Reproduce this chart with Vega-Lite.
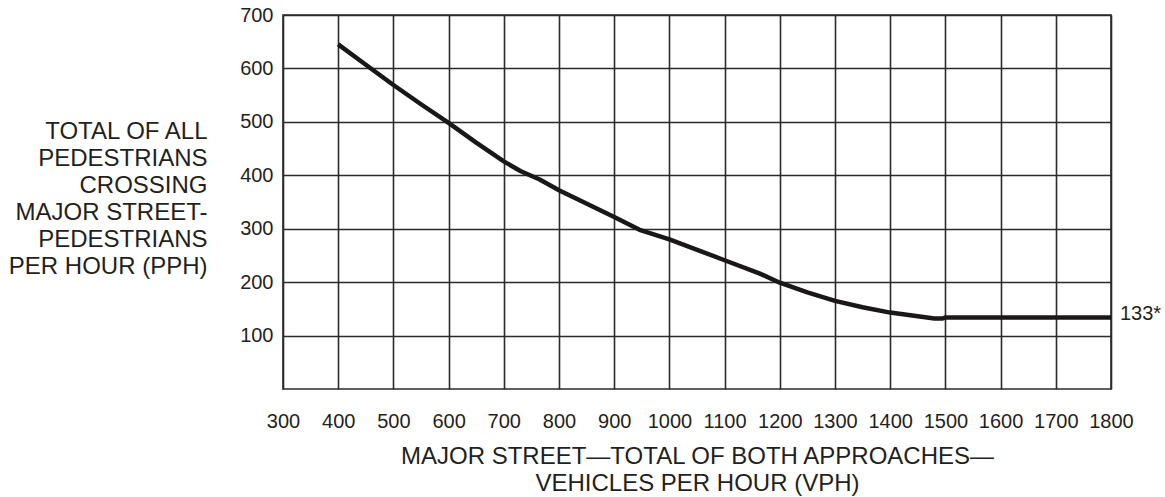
{
  "$schema": "https://vega.github.io/schema/vega-lite/v6.json",
  "autosize": {"type": "none"},
  "width": 828,
  "height": 374,
  "padding": {"left": 283, "top": 15, "right": 54, "bottom": 108},
  "background": "white",
  "config": {
    "font": "Liberation Sans",
    "view": {"stroke": "#2b2b2b", "strokeWidth": 1.6},
    "axis": {
      "domain": false,
      "ticks": false,
      "tickSize": 0,
      "grid": true,
      "gridColor": "#2b2b2b",
      "gridWidth": 1.6,
      "gridOpacity": 1,
      "labelFont": "Liberation Sans",
      "labelFontSize": 20,
      "labelColor": "#231f20",
      "titleFont": "Liberation Sans",
      "titleFontWeight": "normal",
      "titleColor": "#231f20"
    }
  },
  "datasets": {
    "curve": [
      {"vph": 400, "pph": 645},
      {"vph": 450, "pph": 607},
      {"vph": 500, "pph": 569},
      {"vph": 550, "pph": 533},
      {"vph": 600, "pph": 498},
      {"vph": 650, "pph": 461},
      {"vph": 700, "pph": 426},
      {"vph": 730, "pph": 408},
      {"vph": 765, "pph": 392},
      {"vph": 800, "pph": 372},
      {"vph": 900, "pph": 322},
      {"vph": 946, "pph": 298},
      {"vph": 1000, "pph": 280},
      {"vph": 1100, "pph": 241},
      {"vph": 1164, "pph": 216},
      {"vph": 1200, "pph": 199},
      {"vph": 1250, "pph": 181},
      {"vph": 1300, "pph": 165},
      {"vph": 1350, "pph": 153},
      {"vph": 1400, "pph": 143},
      {"vph": 1450, "pph": 136},
      {"vph": 1480, "pph": 132},
      {"vph": 1495, "pph": 132},
      {"vph": 1500, "pph": 134},
      {"vph": 1800, "pph": 134}
    ],
    "note": [
      {"vph": 1800, "pph": 133, "label": "133*"}
    ]
  },
  "layer": [
    {
      "data": {"name": "curve"},
      "mark": {"type": "line", "color": "#1a1718", "strokeWidth": 4.5, "strokeCap": "butt", "strokeJoin": "round"},
      "encoding": {
        "x": {
          "field": "vph",
          "type": "quantitative",
          "scale": {"domain": [300, 1800], "nice": false, "zero": false},
          "axis": {
            "values": [300, 400, 500, 600, 700, 800, 900, 1000, 1100, 1200, 1300, 1400, 1500, 1600, 1700, 1800],
            "format": "d",
            "labelPadding": 22,
            "labelBaseline": "top",
            "labelFlush": false,
            "labelOverlap": false,
            "title": ["MAJOR STREET\u2014TOTAL OF BOTH APPROACHES\u2014", "VEHICLES PER HOUR (VPH)"],
            "titleFontSize": 24,
            "titleLineHeight": 27,
            "titleBaseline": "top",
            "titleAnchor": "middle",
            "titleY": 55
          }
        },
        "y": {
          "field": "pph",
          "type": "quantitative",
          "scale": {"domain": [0, 700], "nice": false},
          "axis": {
            "values": [100, 200, 300, 400, 500, 600, 700],
            "labelPadding": 10,
            "labelBaseline": "middle",
            "labelFlush": false,
            "labelOverlap": false,
            "title": ["TOTAL OF ALL", "PEDESTRIANS", "CROSSING", "MAJOR STREET-", "PEDESTRIANS", "PER HOUR (PPH)"],
            "titleAngle": 0,
            "titleAlign": "right",
            "titleBaseline": "top",
            "titleFontSize": 24,
            "titleLineHeight": 27,
            "titleX": -76,
            "titleY": 104
          }
        }
      }
    },
    {
      "data": {"name": "note"},
      "mark": {"type": "text", "align": "left", "baseline": "middle", "dx": 9, "dy": -4, "fontSize": 20, "font": "Liberation Sans", "color": "#231f20"},
      "encoding": {
        "x": {"field": "vph", "type": "quantitative"},
        "y": {"field": "pph", "type": "quantitative"},
        "text": {"field": "label"}
      }
    }
  ]
}
